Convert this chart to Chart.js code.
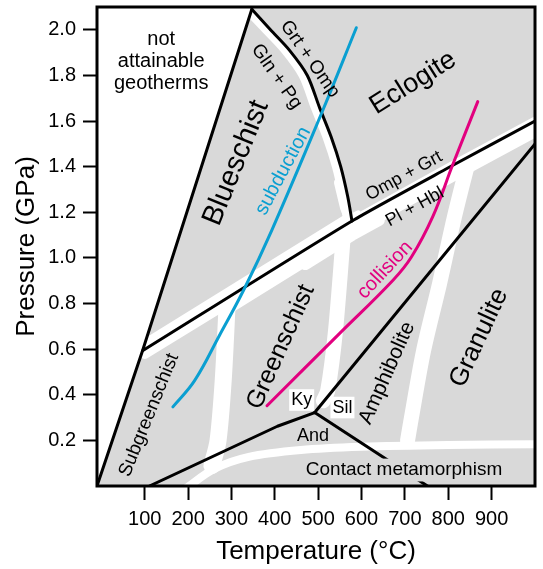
<!DOCTYPE html>
<html>
<head>
<meta charset="utf-8">
<script src="https://cdn.jsdelivr.net/npm/chart.js@4.4.1/dist/chart.umd.min.js"></script>
<style>
  html, body { margin: 0; padding: 0; background: #fff; }
</style>
</head>
<body>
<canvas id="faciesChart" width="543" height="569"></canvas>
<script>
// axis ticks
const tempTicks = [100, 200, 300, 400, 500, 600, 700, 800, 900];
const pressTicks = [0.2, 0.4, 0.6, 0.8, 1.0, 1.2, 1.4, 1.6, 1.8, 2.0];

// geotherms [T °C, P GPa]
const subduction = [[165,0.347],[215,0.462],[272,0.659],[330,0.866],[393,1.121],[510,1.644],[588,2.009]];
const collision = [[382,0.352],[549,0.668],[672,0.901],[715,1.004],[764,1.18],[810,1.407],[868,1.685]];

// black boundaries
const geothermLimit = [[-10,0],[95,0.593],[347,2.09]];
const glnPgOut = [[347,2.09],[390,2.0],[434,1.91],[475,1.80],[503,1.66],[530,1.53],[552,1.40],[568,1.27],[578,1.162]];
const plHblOut = [[95,0.593],[578,1.162],[800,1.395],[1000,1.60]];
const kyAnd = [[111,0],[406,0.262],[492,0.322]];
const kySil = [[492,0.322],[1000,1.50]];
const silAnd = [[492,0.322],[752,0]];

// grey facies field and the white gaps between the fields
const faciesField = [[-10,0],[95,0.593],[348,2.1],[1000,2.1],[1000,0],[-10,0]];
const gapUnderLow = [[100,0.579],[290,0.80]];
const gapUnder = [[290,0.787],[578,1.127],[800,1.36],[1000,1.565]];
const gapUnderWide = [[470,0.973],[578,1.101],[640,1.166]];
const gapAboveBlue = [[105,0.627],[565,1.168]];
const gapAboveEcl = [[585,1.177],[800,1.404],[1000,1.609]];
const gapGlnPg = [[344,2.07],[379,2.0],[423,1.91],[464,1.80],[492,1.66],[519,1.53],[541,1.40],[557,1.27],[565,1.19]];
const gapJunction = [[548,1.33],[562,1.22],[572,1.17]];
const gapEclCorner = [[582,1.185],[592,1.195]];
const gapSubGreen = [[290,0.791],[281,0.462],[269,0.198],[255,0.09]];
const gapGreenAmph = [[558,1.099],[540,0.681],[522,0.418],[512,0.374]];
const gapAmphGran = [[844,1.407],[814,1.178],[780,0.888],[743,0.593],[715,0.299],[706,0.198]];
const gapContact = [[195,-0.01],[260,0.075],[340,0.128],[460,0.158],[600,0.172],[800,0.18],[1000,0.183]];

// text in the diagram
const labels = [
  {text: ['not', 'attainable', 'geotherms'], t: 138, p: 1.863, rot: 0, size: 20},
  {text: 'Blueschist', t: 311, p: 1.416, rot: -68, size: 29},
  {text: 'Gln + Pg', t: 404, p: 1.795, rot: 55, size: 19},
  {text: 'Grt + Omp', t: 481, p: 1.872, rot: 55, size: 19},
  {text: 'Eclogite', t: 719, p: 1.767, rot: -32, size: 27},
  {text: 'subduction', t: 419, p: 1.381, rot: -62, size: 20, color: '#0a9fd1'},
  {text: 'Omp + Grt', t: 698, p: 1.359, rot: -29, size: 18},
  {text: 'Pl + Hbl', t: 723, p: 1.223, rot: -29, size: 18},
  {text: 'collision', t: 654, p: 0.947, rot: -47, size: 20, color: '#e2007f'},
  {text: 'Greenschist', t: 414, p: 0.609, rot: -66, size: 25},
  {text: 'Subgreenschist', t: 110, p: 0.311, rot: -68, size: 19},
  {text: 'Amphibolite', t: 659, p: 0.495, rot: -66, size: 21},
  {text: 'Granulite', t: 871, p: 0.649, rot: -65, size: 26},
  {text: 'Ky', t: 462, p: 0.377, rot: 0, size: 18, bg: '#ffffff'},
  {text: 'Sil', t: 556, p: 0.344, rot: 0, size: 18, bg: '#ffffff'},
  {text: 'And', t: 488, p: 0.219, rot: 0, size: 18},
  {text: 'Contact metamorphism', t: 698, p: 0.070, rot: 0, size: 19, bg: '#d9d9d9'}
];

const FONT = "'Liberation Sans', Arial, sans-serif";
Chart.defaults.font.family = FONT;
Chart.defaults.color = '#000';

const pts = arr => arr.map(d => ({x: d[0], y: d[1]}));

function lineSet(arr, color, width, order, extra) {
  return Object.assign({
    data: pts(arr),
    borderColor: color,
    borderWidth: width,
    borderCapStyle: 'round',
    borderJoinStyle: 'round',
    pointRadius: 0,
    fill: false,
    clip: 0,
    order: order
  }, extra || {});
}

const WHITE = '#ffffff';
const GREY = '#d9d9d9';

const datasets = [
  lineSet(faciesField, GREY, 0, 30, {fill: 'shape', backgroundColor: GREY}),
  lineSet(gapUnderLow, WHITE, 10, 20),
  lineSet(gapUnder, WHITE, 16, 20),
  lineSet(gapUnderWide, WHITE, 12, 20),
  lineSet(gapAboveBlue, WHITE, 10, 20),
  lineSet(gapAboveEcl, WHITE, 5, 20),
  lineSet(gapGlnPg, WHITE, 8, 20, {tension: 0.3}),
  lineSet(gapJunction, WHITE, 10, 20),
  lineSet(gapEclCorner, WHITE, 6, 20),
  lineSet(gapSubGreen, WHITE, 17, 20, {tension: 0.3}),
  lineSet(gapGreenAmph, WHITE, 15, 20, {tension: 0.3}),
  lineSet(gapAmphGran, WHITE, 15, 20, {tension: 0.3}),
  lineSet(gapContact, WHITE, 8, 20, {tension: 0.3}),
  lineSet(geothermLimit, '#000', 3, 10),
  lineSet(glnPgOut, '#000', 3, 10, {tension: 0.3}),
  lineSet(plHblOut, '#000', 3, 10, {tension: 0.2}),
  lineSet(kyAnd, '#000', 3, 10),
  lineSet(kySil, '#000', 3, 10),
  lineSet(silAnd, '#000', 3, 10),
  lineSet(subduction, '#0a9fd1', 3, 2, {tension: 0.4}),
  lineSet(collision, '#e2007f', 3, 2, {tension: 0.4})
];

// labels and the frame round the plot
const diagramText = {
  id: 'diagramText',
  afterDatasetsDraw(chart) {
    const {ctx, chartArea, scales} = chart;
    ctx.save();
    labels.forEach(l => {
      const x = scales.x.getPixelForValue(l.t);
      const y = scales.y.getPixelForValue(l.p);
      ctx.save();
      ctx.translate(x, y);
      ctx.rotate(l.rot * Math.PI / 180);
      ctx.font = l.size + 'px ' + FONT;
      ctx.textAlign = 'center';
      ctx.textBaseline = 'middle';
      const lines = Array.isArray(l.text) ? l.text : [l.text];
      const lh = l.size * 1.1;
      if (l.bg) {
        const w = Math.max(...lines.map(s => ctx.measureText(s).width));
        ctx.fillStyle = l.bg;
        ctx.fillRect(-w / 2 - 2, -l.size * 0.6, w + 4, l.size * 1.2);
      }
      ctx.fillStyle = l.color || '#000';
      lines.forEach((s, i) => {
        ctx.fillText(s, 0, (i - (lines.length - 1) / 2) * lh);
      });
      ctx.restore();
    });
    ctx.strokeStyle = '#000';
    ctx.lineWidth = 3;
    ctx.strokeRect(chartArea.left, chartArea.top, chartArea.right - chartArea.left, chartArea.bottom - chartArea.top);
    ctx.restore();
  }
};

new Chart(document.getElementById('faciesChart').getContext('2d'), {
  type: 'line',
  data: {datasets: datasets},
  options: {
    responsive: false,
    animation: false,
    layout: {padding: {top: 7, right: 8, left: 0, bottom: 0}},
    plugins: {legend: {display: false}, tooltip: {enabled: false}},
    scales: {
      x: {
        type: 'linear',
        min: -10,
        max: 1000,
        afterBuildTicks: s => { s.ticks = tempTicks.map(v => ({value: v})); },
        afterFit: s => { s.height = 83; s.paddingLeft = 0; s.paddingRight = 0; },
        ticks: {font: {size: 20}, color: '#000', padding: 7, maxRotation: 0, autoSkip: false},
        grid: {drawOnChartArea: false, tickLength: 14, tickWidth: 2, tickColor: '#000'},
        border: {display: false},
        title: {display: true, text: 'Temperature (°C)', font: {size: 26}, color: '#000', padding: {top: 0, bottom: 2}}
      },
      y: {
        type: 'linear',
        min: 0,
        max: 2.1,
        afterBuildTicks: s => { s.ticks = pressTicks.map(v => ({value: v})); },
        afterFit: s => { s.width = 97; s.paddingTop = 0; s.paddingBottom = 0; },
        ticks: {font: {size: 20}, color: '#000', padding: 7, autoSkip: false, callback: v => v.toFixed(1)},
        grid: {drawOnChartArea: false, tickLength: 14, tickWidth: 2, tickColor: '#000'},
        border: {display: false},
        title: {display: true, text: 'Pressure (GPa)', font: {size: 26}, color: '#000', padding: {top: 11, bottom: 0}}
      }
    }
  },
  plugins: [diagramText]
});
</script>
</body>
</html>
